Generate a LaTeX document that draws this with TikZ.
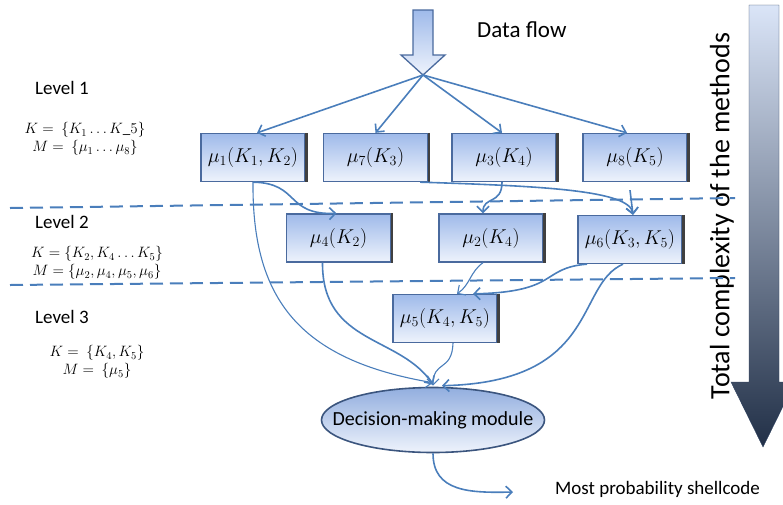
\RequirePackage{fix-cm}
\documentclass[tikz,border=0pt]{standalone}
\usepackage[no-math]{fontspec}
\setmainfont{Carlito}
\usepackage{amsmath, amssymb}
\usetikzlibrary{shapes.geometric, arrows.meta}

\definecolor{flowline}{HTML}{4A7EBB}
\definecolor{boxedge}{HTML}{4A6A9E}
\definecolor{boxtop}{HTML}{9FBAEA}
\definecolor{boxbot}{HTML}{EEF3FC}

\tikzset{
    method/.style={rectangle, draw=boxedge, line width=1.3pt, top color=boxtop, bottom color=boxbot,
        minimum width=104pt, minimum height=48pt, inner sep=0pt, font=\fontsize{20}{22}\selectfont},
    flow/.style={draw=flowline, line width=1.6pt, -{Straight Barb[length=6pt, width=12pt]}},
    thinflow/.style={flow, line width=1.1pt},
    levelsep/.style={draw=flowline, line width=2pt, dash pattern=on 13pt off 7pt},
    levelname/.style={anchor=west, inner sep=0pt, font=\fontsize{19}{22}\selectfont},
    sets/.style={align=center, inner sep=0pt, font=\fontsize{15}{18}\selectfont}
}

\begin{document}
\begin{tikzpicture}[x=1pt, y=-1pt]
    \useasboundingbox (0,0) rectangle (783,504);

    % complexity arrow on the right
    \draw[draw=boxedge!60!black, top color=boxbot!75!boxtop, bottom color=boxedge!45!black]
        (749,5) -- (779,5) -- (779,382) -- (795,382) -- (763,447) -- (731,382) -- (749,382) -- cycle;
    \node[rotate=90, font=\fontsize{28}{30}\selectfont] (total) at (722,216) {Total complexity of the methods};

    % level separators
    \coordinate (sepAw) at (10,208);
    \coordinate (sepAe) at (735,198);
    \coordinate (sepBw) at (10,285);
    \coordinate (sepBe) at (735,278);
    \draw[levelsep] (sepAw) -- (sepAe);
    \draw[levelsep] (sepBw) -- (sepBe);

    % data flow arrow
    \draw[draw=boxedge, line width=1.3pt, top color=boxtop, bottom color=boxbot]
        (413,10) -- (433,10) -- (433,55) -- (445,55) -- (423,75) -- (401,55) -- (413,55) -- cycle;
    \coordinate (split) at (423,75);
    \node[anchor=west, inner sep=0pt, font=\fontsize{23}{26}\selectfont] (data) at (477,30) {Data flow};

    % levels
    \node[levelname] (lev1) at (35,88) {Level 1};
    \node[sets] (set1) at (85,139) {$K=\ \{K_1 \ldots K\_5\}$\\$M=\ \{\mu_1 \ldots \mu_8\}$};
    \node[levelname] (lev2) at (35,222) {Level 2};
    \node[sets] (set2) at (97,263) {$K=\{K_2, K_4 \ldots K_5\}$\\$M=\{\mu_2, \mu_4, \mu_5, \mu_6\}$};
    \node[levelname] (lev3) at (35,317) {Level 3};
    \node[sets] (set3) at (97,362) {$K=\ \{K_4, K_5\}$\\$M=\ \{\mu_5\}$};

    % methods
    \node[method] (m1) at (253,157.5) {$\mu_1(K_1,K_2)$};
    \node[method] (m7) at (375.5,157.5) {$\mu_7(K_3)$};
    \node[method] (m3) at (504,157.5) {$\mu_3(K_4)$};
    \node[method] (m8) at (635,157.5) {$\mu_8(K_5)$};
    \node[method] (m4) at (338.5,238) {$\mu_4(K_2)$};
    \node[method] (m2) at (491,238) {$\mu_2(K_4)$};
    \node[method] (m6) at (630,239.5) {$\mu_6(K_3,K_5)$};
    \node[method] (m5) at (445,318.5) {$\mu_5(K_4,K_5)$};
    \foreach \n in {m1,m7,m3,m8,m4,m2,m6,m5}
        \draw[black!75, line width=2.4pt] ([xshift=1pt]\n.north east) -- ([xshift=1pt]\n.south east);

    \node[ellipse, draw=boxedge!80!black, line width=1.6pt, top color=boxtop!85!boxedge, bottom color=boxbot,
        minimum width=223pt, minimum height=65pt, inner xsep=-24pt, inner ysep=0pt, font=\fontsize{20}{22}\selectfont]
        (dm) at (433,420) {Decision-making module};
    \node[anchor=west, inner sep=0pt, font=\fontsize{19}{22}\selectfont] (out) at (555,489) {Most probability shellcode};
    \coordinate (outtip) at (513,492);

    % connectors
    \draw[flow] (split) -- ([xshift=4pt]m1.north);
    \draw[flow] (split) -- (m7.north);
    \draw[flow] (split) -- ([xshift=-2pt]m3.north);
    \draw[flow] (split) -- ([xshift=-8pt]m8.north);

    \draw[flow] (m1.south) .. controls (300,183) and (285,215) .. ([xshift=-2pt]m4.north);
    \draw[thinflow] (m1.south) .. controls (252,300) and (300,360) .. ([yshift=4pt]dm.north);
    \draw[flow] ([xshift=-8pt]m7.south east) .. controls (540,186) and (630,190) .. ([xshift=3pt]m6.north);
    \draw[flow] ([xshift=-2pt]m3.south) .. controls (502,205) and (483,196) .. ([xshift=-8pt]m2.north);
    \draw[flow] ([xshift=-5pt, yshift=-8pt]m8.south) -- ([xshift=3pt]m6.north);

    \draw[flow] ([xshift=-16pt]m4.south) .. controls (322,345) and (400,335) .. ([yshift=2pt]dm.north);
    \draw[thinflow] ([xshift=-8pt]m2.south) .. controls (470,272) and (470,285) .. ([xshift=12pt]m5.north);
    \draw[flow] ([xshift=-43pt]m6.south) .. controls (540,268) and (560,292) .. ([xshift=28pt]m5.north);
    \draw[flow] ([xshift=-7pt]m6.south) .. controls (575,285) and (600,382) .. ([xshift=9pt, yshift=1pt]dm.north);
    \draw[thinflow] ([xshift=8pt]m5.south) .. controls (452,372) and (433,360) .. ([yshift=1pt]dm.north);

    \draw[flow] (dm.south) .. controls (433,492) and (470,493) .. (outtip);
\end{tikzpicture}
\end{document}
